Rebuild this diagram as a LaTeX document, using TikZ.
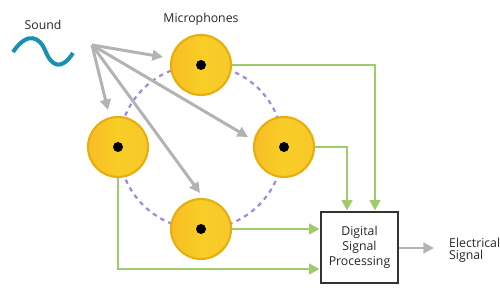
\documentclass[tikz,border=0pt]{standalone}
\usepackage{fontspec}
\setmainfont{Open Sans}
\usetikzlibrary{arrows.meta}
\definecolor{micfill}{HTML}{F7C82A}
\definecolor{micedge}{HTML}{E8AE10}
\definecolor{grn}{HTML}{9FCB6B}
\definecolor{gry}{HTML}{B3B3B3}
\definecolor{lav}{HTML}{A688E0}
\definecolor{teal}{HTML}{1A8FB3}
\definecolor{boxc}{HTML}{333333}
\begin{document}
\begin{tikzpicture}[x=0.02cm,y=-0.02cm,
  mic/.style={circle,minimum size=1.2cm,inner sep=0pt,draw=micedge,line width=1.2pt,
    left color=micfill!85!orange,right color=micfill,middle color=micfill!90!yellow},
  dot/.style={circle,fill=black,minimum size=0.2cm,inner sep=0pt},
  sndarrow/.style={draw=gry,line width=1.7pt,-{Triangle[length=6pt,width=6pt]}},
  grnarrow/.style={draw=grn,line width=1.6pt,-{Triangle[length=6pt,width=6pt]}},
  lbl/.style={font=\fontsize{7pt}{8.5pt}\selectfont,text=black!85}]
\useasboundingbox (0,0) rectangle (500,300);
% dashed circle
\draw[lav,line width=1.3pt,dash pattern=on 2.5pt off 2.5pt] (201,147) circle [radius=82];
% microphones
\node[mic] (m1) at (201,65) {};
\node[mic] (m2) at (118,147) {};
\node[mic] (m3) at (284,147) {};
\node[mic] (m4) at (201,229) {};
\foreach \m in {m1,m2,m3,m4} \node[dot] at (\m) {};
% labels
\node[lbl] (snd) at (43,25) {Sound};
\node[lbl] (mics) at (201,19) {Microphones};
% wave
\draw[teal,line width=2.3pt] (13,52) .. controls (28,30) and (40,38) .. (45,50) .. controls (52,68) and (62,70) .. (73,53);
% source
\coordinate (src) at (92,45);
\coordinate (t1) at (163,57);
\coordinate (t2) at (108,110);
\coordinate (t3) at (248,137);
\coordinate (t4) at (200,193);
\foreach \t in {t1,t2,t3,t4} \draw[sndarrow] (src) -- (\t);
% DSP
\node[draw=boxc,line width=1.6pt,minimum width=1.54cm,minimum height=1.42cm,align=center,lbl,fill=white] (dsp) at (359.5,247.5) {Digital\\Signal\\Processing};
\coordinate (c1) at (375,65);
\coordinate (c3) at (347,147);
\coordinate (c2) at (118,269);
\draw[grnarrow] (m1.east) -- (c1) -- (c1 |- dsp.north);
\draw[grnarrow] (m3.east) -- (c3) -- (c3 |- dsp.north);
\draw[grnarrow] (m4.east) -- (m4.east -| dsp.west);
\draw[grnarrow] (m2.south) -- (c2) -- (c2 -| dsp.west);
% output
\coordinate (out) at (434,248);
\draw[draw=gry,line width=1.7pt,-{Triangle[length=6pt,width=6pt]}] (dsp.east |- out) -- (out);
\node[lbl,font=\fontsize{7pt}{7pt}\selectfont,anchor=west,align=left] (es) at (443,250) {Electrical\\Signal};
\end{tikzpicture}
\end{document}
